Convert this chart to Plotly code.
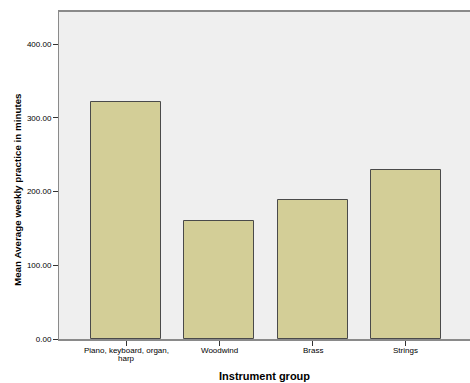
import plotly.graph_objects as go

# Mean weekly practice time by instrument group
groups = ["Piano, keyboard, organ,", "Woodwind", "Brass", "Strings"]
group_second_lines = ["harp", "", "", ""]
mean_minutes = [321.5, 160.3, 188.7, 229.4]
y_ticks = [0, 100, 200, 300, 400]
y_tick_labels = ["0.00", "100.00", "200.00", "300.00", "400.00"]

positions = list(range(len(groups)))

fig = go.Figure(
    go.Bar(
        x=positions,
        y=mean_minutes,
        width=0.75,
        marker=dict(color="#D3CE97", line=dict(color="#4a4a4a", width=1)),
        hoverinfo="y",
    )
)

font_family = "Liberation Sans, Arial, sans-serif"

# plot area geometry in pixels (used to place labels)
L, T, B, W, H = 59, 12, 44, 470, 383
plot_w = W - L
plot_h = H - T - B


def px_to_paper_y(py):
    return (H - B - py) / plot_h


def px_to_paper_x(px):
    return (px - L) / plot_w


annotations = []
# category labels, with tight line spacing for the wrapped label
for i, (first, second) in enumerate(zip(groups, group_second_lines)):
    annotations.append(dict(
        x=i, xref="x", y=px_to_paper_y(350), yref="paper",
        text=first, showarrow=False, xanchor="center", yanchor="middle",
        borderpad=0,
        font=dict(size=8, family=font_family, color="black"),
    ))
    if second:
        annotations.append(dict(
            x=i, xref="x", y=px_to_paper_y(358), yref="paper",
            text=second, showarrow=False, xanchor="center", yanchor="middle",
            borderpad=0,
            font=dict(size=8, family=font_family, color="black"),
        ))

# axis titles
annotations.append(dict(
    x=px_to_paper_x(264.5), xref="paper", y=px_to_paper_y(376), yref="paper",
    text="<b>Instrument group</b>", showarrow=False,
    xanchor="center", yanchor="middle",
    font=dict(size=11, family=font_family, color="black"),
))
annotations.append(dict(
    x=px_to_paper_x(17), xref="paper", y=px_to_paper_y(190), yref="paper",
    text="<b>Mean Average weekly practice in minutes</b>", showarrow=False,
    textangle=-90, xanchor="center", yanchor="middle",
    font=dict(size=9.8, family=font_family, color="black"),
))

fig.update_layout(
    width=W,
    height=H,
    margin=dict(l=L, r=0, t=T, b=B),
    paper_bgcolor="white",
    plot_bgcolor="#EFEFEF",
    showlegend=False,
    font=dict(family=font_family, size=8, color="black"),
    bargap=0,
    annotations=annotations,
)

fig.update_xaxes(
    range=[-0.718, 3.686],
    tickvals=positions,
    ticktext=["" for _ in groups],
    ticks="outside",
    ticklen=5,
    tickcolor="#333333",
    showline=True,
    linecolor="#8a8a8a",
    linewidth=2,
    mirror=True,
    showgrid=False,
    zeroline=False,
)

fig.update_yaxes(
    range=[0, 443.5],
    tickvals=y_ticks,
    ticktext=y_tick_labels,
    ticks="outside",
    ticklen=5,
    tickcolor="#333333",
    showline=True,
    linecolor="#8a8a8a",
    linewidth=1,
    showgrid=False,
    zeroline=False,
    tickfont=dict(size=8),
)

fig.write_html("out.html")
